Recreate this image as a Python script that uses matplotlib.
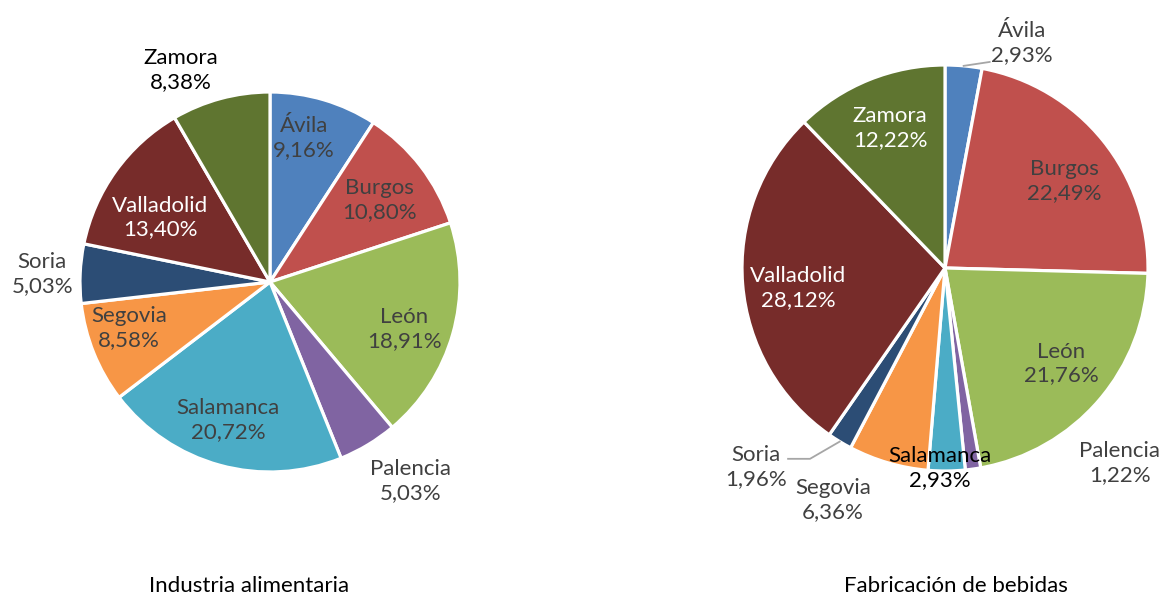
import numpy as np
import matplotlib
matplotlib.use("Agg")
import matplotlib.pyplot as plt

plt.rcParams["font.family"] = ["Lato", "DejaVu Sans"]

# datos
provincias = ["Ávila", "Burgos", "León", "Palencia", "Salamanca",
              "Segovia", "Soria", "Valladolid", "Zamora"]
alimentaria = [9.16, 10.80, 18.91, 5.03, 20.72, 8.58, 5.03, 13.40, 8.38]
bebidas = [2.93, 22.49, 21.76, 1.22, 2.93, 6.36, 1.96, 28.12, 12.22]
titulos = ["Industria alimentaria", "Fabricación de bebidas"]

colores = ["#4F81BD", "#C0504D", "#9BBB59", "#8064A2", "#4BACC6",
           "#F79646", "#2C4D75", "#772C2A", "#5F7530"]

# posicion de etiquetas: angulo (grados, horario desde arriba) y radio
ang_izq = [13.3, 53.4, 109.4, 144.8, 196.8, 252.0, 272.0, 300.4, 337.2]
rad_izq = [0.78, 0.72, 0.75, 1.28, 0.76, 0.78, 1.20, 0.67, 1.21]
col_izq = ["#404040", "#404040", "#404040", "#404040", "#404040",
           "#404040", "#404040", "white", "black"]

ang_der = [18.9, 53.9, 129.5, 138.1, 181.4, 205.8, 223.5, 262.1, 338.6]
rad_der = [1.17, 0.73, 0.74, 1.29, 0.985, 1.27, 1.35, 0.73, 0.74]
col_der = ["#404040", "#404040", "#404040", "#404040", "black",
           "#404040", "#404040", "white", "white"]

W, H = 1161, 596
fig = plt.figure(figsize=(W / 100, H / 100), dpi=100)


def make_ax(cx, cy, R, half):
    # cx, cy en pixeles desde arriba-izquierda
    w = 2 * half * R
    ax = fig.add_axes([(cx - half * R) / W, (H - cy - half * R) / H, w / W, w / H])
    return ax


def draw(ax, valores, angs, rads, cols, leaders, half):
    ax.pie(valores, colors=colores, startangle=90, counterclock=False,
           wedgeprops=dict(edgecolor="white", linewidth=2.3))
    ax.set_xlim(-half, half)
    ax.set_ylim(-half, half)
    ax.set_aspect("equal")
    ax.axis("off")
    for nom, v, a, r, c in zip(provincias, valores, angs, rads, cols):
        t = np.radians(a)
        lab = f"{nom}\n{v:.2f}%".replace(".", ",")
        ax.text(r * np.sin(t), r * np.cos(t), lab, ha="center", va="center",
                fontsize=16, color=c, linespacing=1.25, clip_on=False)
    tot = sum(valores)
    acum = np.cumsum([0] + valores)
    for i, pts in leaders:
        mid = np.radians((acum[i] + valores[i] / 2) / tot * 360)
        xs = [np.sin(mid)] + [p[0] for p in pts]
        ys = [np.cos(mid)] + [p[1] for p in pts]
        ax.plot(xs, ys, color="#A6A6A6", lw=1.3, clip_on=False)


ax1 = make_ax(270, 282, 190, 1.42)
draw(ax1, alimentaria, ang_izq, rad_izq, col_izq, [], 1.42)
ax2 = make_ax(945, 268, 203, 1.06)
draw(ax2, bebidas, ang_der, rad_der, col_der,
     [(0, [(0.22, 1.015)]), (6, [(-0.665, -0.94), (-0.773, -0.94)])], 1.06)

fig.text(249 / W, 1 - 586 / H, titulos[0], ha="center", va="center", fontsize=16)
fig.text(956 / W, 1 - 586 / H, titulos[1], ha="center", va="center", fontsize=16)

fig.savefig("out.png", dpi=100, facecolor="white")
